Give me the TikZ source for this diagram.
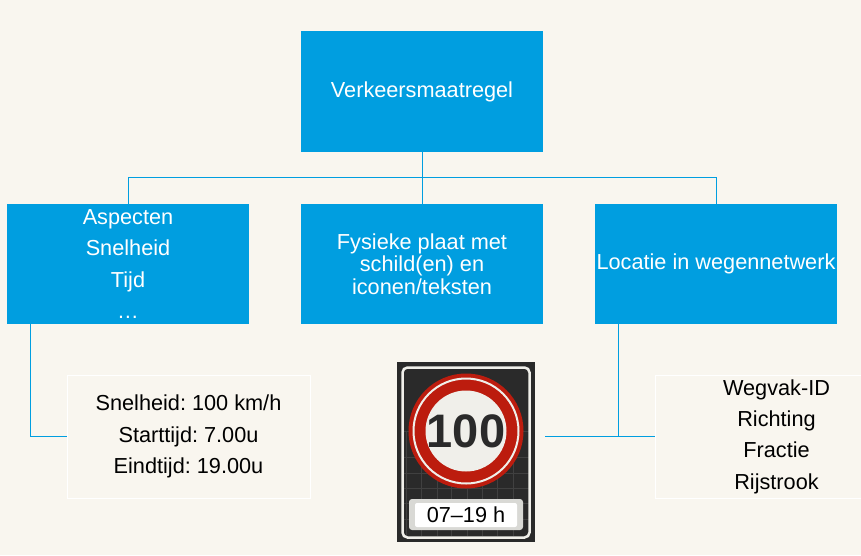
\documentclass[tikz,border=0pt]{standalone}
\usepackage{fontspec}
\usetikzlibrary{calc}
\setmainfont{Liberation Sans}
\frenchspacing
\definecolor{achtergrond}{HTML}{F9F6EF}
\definecolor{blauw}{HTML}{009EE0}
\definecolor{schildrood}{HTML}{BC1C0E}
\definecolor{schildwit}{HTML}{F0EFEA}
\definecolor{bordzwart}{HTML}{2A2A2A}
\tikzset{
  blok/.style={shape=rectangle,fill=blauw,text=white,minimum width=242pt,minimum height=120.5pt,inner sep=0pt,outer sep=0pt,align=center,font=\fontsize{21.7}{31.3}\selectfont},
  tekstblok/.style={shape=rectangle,draw=white,fill=achtergrond,text=black,minimum width=243pt,minimum height=122.5pt,inner sep=0pt,outer sep=0pt,align=center,font=\fontsize{21.7}{31.3}\selectfont},
  lijn/.style={draw=blauw,line width=1pt},
}
\begin{document}
\begin{tikzpicture}[x=1pt,y=-1pt]
\useasboundingbox (0,0) rectangle (861,555);
\clip (0,0) rectangle (861,555);
\fill[achtergrond] (0,0) rectangle (861,555);

\node[blok] (maatregel) at (422,91.5) {Verkeersmaatregel};
\node[blok] (aspecten) at (128,264) {Aspecten\\Snelheid\\Tijd\\…};
\node[blok,font=\fontsize{21.7}{22.5}\selectfont] (plaat) at (422,264) {Fysieke plaat met\\schild(en) en\\iconen/teksten};
\node[blok] (locatie) at (716,264) {Locatie in wegennetwerk};

\node[tekstblok] (waarden) at (188.5,436.5) {Snelheid: 100 km/h\\Starttijd: 7.00u\\Eindtijd: 19.00u};
\node[tekstblok] (wegvak) at (776.5,436.5) {Wegvak-ID\\Richting\\Fractie\\Rijstrook};

% bord
\node[shape=rectangle,fill=bordzwart,minimum width=138pt,minimum height=180pt,inner sep=0pt,outer sep=0pt] (bord) at (466,452) {};
\foreach \gx in {406,421,437,451,467,482,497,513}
  \draw[gray!50!black,line width=0.5pt] (\gx,432) -- (\gx,536);
\foreach \gy in {431,457,473,488,503,519}
  \draw[gray!50!black,line width=0.5pt] (402,\gy) -- (530,\gy);
\draw[schildwit,line width=2.5pt,rounded corners=5pt] ($(bord.north west)+(5.5,5.5)$) rectangle ($(bord.south east)+(-5.5,-4.5)$);
\node[shape=circle,fill=schildrood,minimum size=115pt,inner sep=0pt] (rand) at (466,431) {};
\node[shape=circle,draw=schildwit,line width=2pt,minimum size=105pt,inner sep=0pt] (ring) at (466,431) {};
\node[shape=circle,fill=schildwit,minimum size=81pt,inner sep=0pt] (schijf) at (466,431) {};
\node[text=bordzwart,inner sep=0pt,font=\fontsize{47}{47}\selectfont\bfseries] (honderd) at (466,431) {100};
\node[shape=rectangle,fill=schildwit!80!gray,rounded corners=3pt,minimum width=114pt,minimum height=31pt,inner sep=0pt] (onderbord) at (466,514.5) {};
\node[shape=rectangle,fill=white,rounded corners=2pt,minimum width=102pt,minimum height=24pt,inner sep=0pt,font=\fontsize{21.7}{24}\selectfont] (tijden) at (466,515) {07–19 h};

% verbindingen
\coordinate (tak) at (422,177.5);
\coordinate (bordrand) at (545,436.5);
\draw[lijn] (maatregel.south) -- (plaat.north);
\draw[lijn] (aspecten.north) |- (tak) -| (locatie.north);
\draw[lijn] ($(aspecten.south west)+(23.5,0)$) |- (waarden.west);
\draw[lijn] ($(locatie.south west)+(23.5,0)$) |- (wegvak.west);
\draw[lijn] (bordrand) -- (bordrand -| wegvak.west);
\end{tikzpicture}
\end{document}
